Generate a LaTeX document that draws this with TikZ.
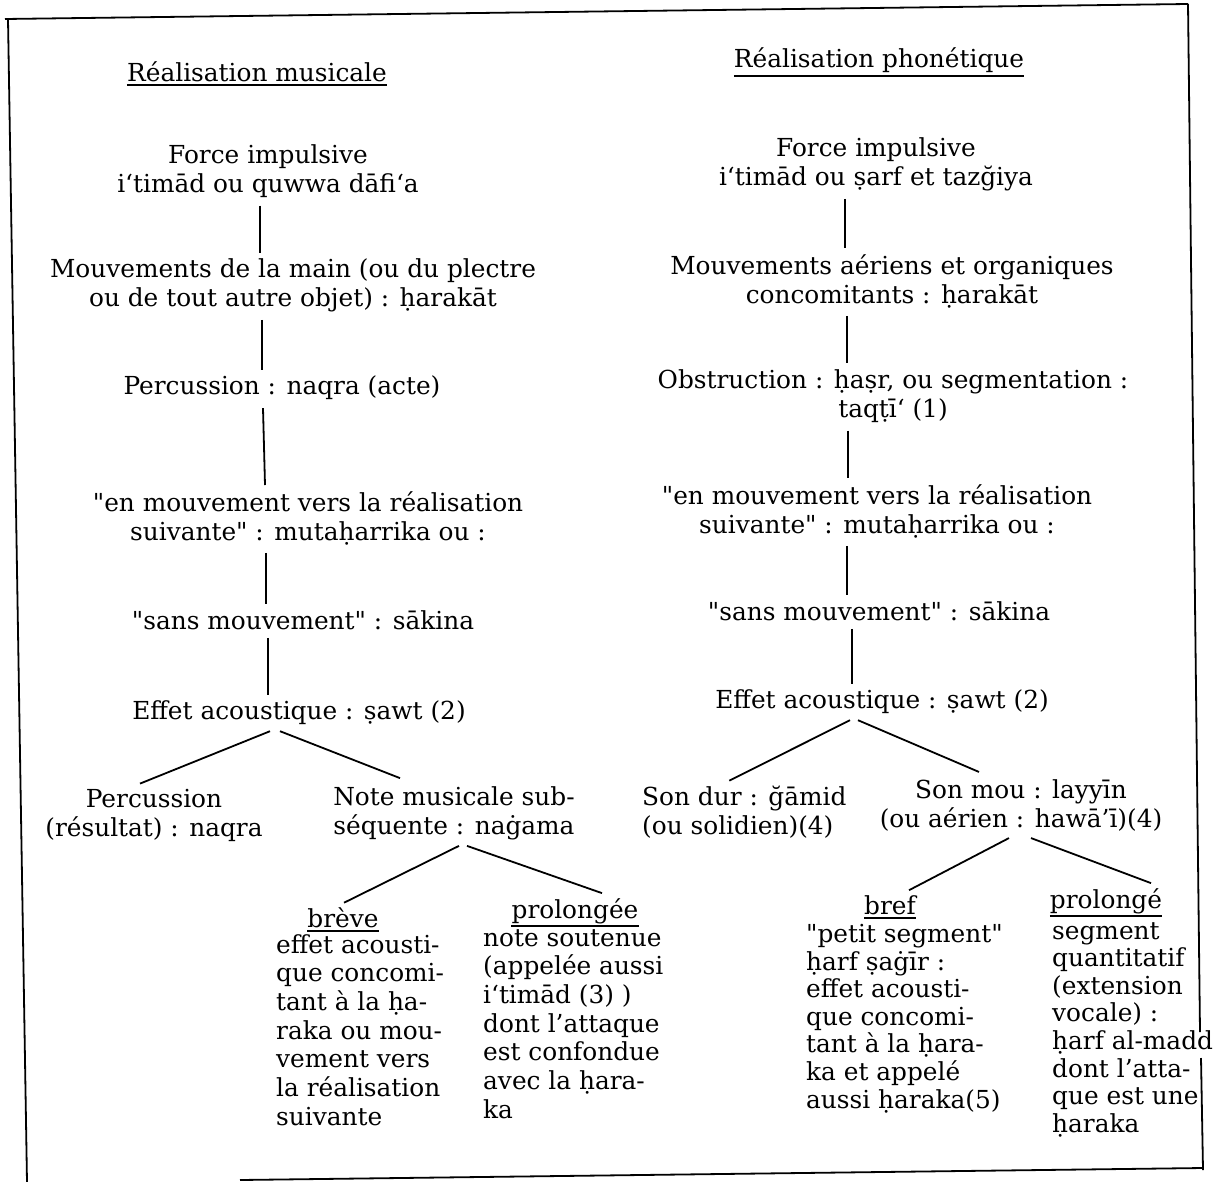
\documentclass[tikz,border=0pt]{standalone}
\usepackage{fontspec}
\setmainfont{DejaVu Serif}
\newcommand\qq{\textquotedbl}
\newcommand\fsz{\fontsize{24.8}{29}\selectfont}
\tikzset{
  txt/.style={inner sep=0pt, font=\fsz, align=center},
  lbody/.style={inner sep=0pt, anchor=north west, align=left, font=\fontsize{24.8}{28.7}\selectfont},
  rbody/.style={inner sep=0pt, anchor=north west, align=left, font=\fontsize{24.8}{27.6}\selectfont},
  conn/.style={line width=1.8pt},
  uline/.style={line width=1.8pt},
  frame/.style={line width=1.8pt}
}
\begin{document}
\begin{tikzpicture}[x=1pt,y=-1pt]
\useasboundingbox (0,0) rectangle (1225,1182);
% frame
\draw[frame] (5,19) -- (1188,4);
\draw[frame] (8,19) -- (27,1182);
\draw[frame] (1188,4) -- (1200,1032);
\draw[frame] (1201,1058) -- (1203,1170);
\draw[frame] (240,1180) -- (1203,1168);
% titles
\node[txt] (T1) at (257,72) {Réalisation musicale};
\node[txt] (T2) at (879,60) {Réalisation phonétique};
\draw[uline] ([yshift=-3pt]T1.south west) -- ([yshift=-3pt]T1.south east);
\draw[uline] ([yshift=-3pt]T2.south west) -- ([yshift=-3pt]T2.south east);
% left column
\node[txt] (L1) at (268,171) {Force impulsive\\ i‘timād ou quwwa dāfi‘a};
\node[txt] (L2) at (293,285) {Mouvements de la main (ou du plectre\\ ou de tout autre objet) : ḥarakāt};
\node[txt] (L3) at (282,388) {Percussion : naqra (acte)};
\node[txt] (L4) at (308,518) {\qq en mouvement vers la réalisation\\ suivante\qq{} : mutaḥarrika ou :};
\node[txt] (L5) at (303,620) {\qq sans mouvement\qq{} : sākina};
\node[txt] (L6) at (299,713) {Effet acoustique : ṣawt (2)};
\node[txt] (L7) at (154,815) {Percussion\\ (résultat) : naqra};
\node[txt] (L8) at (454,813) {Note musicale sub-\\ séquente : naġama};
\node[txt] (L9) at (343,918) {brève};
\draw[uline] ([yshift=-3pt]L9.south west) -- ([yshift=-3pt]L9.south east);
\node[lbody] (L10) at (276,934) {effet acousti-\\ que concomi-\\ tant à la ḥa-\\ raka ou mou-\\ vement vers\\ la réalisation\\ suivante};
\node[txt] (L11) at (575,911) {prolongée};
\draw[uline] ([yshift=-2pt]L11.south west) -- ([yshift=-2pt]L11.south east);
\node[lbody] (L12) at (483,929) {note soutenue\\ (appelée aussi\\ i‘timād (3) )\\ dont l'attaque\\ est confondue\\ avec la ḥara-\\ ka};
% right column
\node[txt] (R1) at (876,164) {Force impulsive\\ i‘timād ou ṣarf et tazğiya};
\node[txt] (R2) at (892,281) {Mouvements aériens et organiques\\ concomitants : ḥarakāt};
\node[txt] (R3) at (893,396) {Obstruction : ḥaṣr, ou segmentation :\\ taqṭī‘ (1)};
\node[txt] (R4) at (877,511) {\qq en mouvement vers la réalisation\\ suivante\qq{} : mutaḥarrika ou :};
\node[txt] (R5) at (879,611) {\qq sans mouvement\qq{} : sākina};
\node[txt] (R6) at (882,702) {Effet acoustique : ṣawt (2)};
\node[txt, anchor=west, align=left] (R7) at (642,812) {Son dur : ğāmid\\ (ou solidien)(4)};
\node[txt] (R8) at (1021,806) {Son mou : layyīn\\ (ou aérien : hawā’ī)(4)};
\node[txt] (R9) at (890,905) {bref};
\draw[uline] ([yshift=-3pt]R9.south west) -- ([yshift=-3pt]R9.south east);
\node[rbody] (R10) at (806,924) {\qq petit segment\qq\\ ḥarf ṣaġīr :\\ effet acousti-\\ que concomi-\\ tant à la ḥara-\\ ka et appelé\\ aussi ḥaraka(5)};
\node[txt] (R11) at (1106,901) {prolongé};
\draw[uline] ([yshift=-2pt]R11.south west) -- ([yshift=-2pt]R11.south east);
\node[rbody] (R12) at (1052,922) {segment\\ quantitatif\\ (extension\\ vocale) :\\ ḥarf al-madd\\ dont l'atta-\\ que est une\\ ḥaraka};
% connectors left
\draw[conn] ([xshift=-8pt,yshift=-8pt]L1.south) -- ([xshift=-33pt,yshift=5pt]L2.north);
\draw[conn] ([xshift=-31pt,yshift=-8pt]L2.south) -- ([xshift=-20pt,yshift=6pt]L3.north);
\draw[conn] ([xshift=-19pt,yshift=-8pt]L3.south) -- ([xshift=-43pt,yshift=6pt]L4.north);
\draw[conn] ([xshift=-42pt,yshift=-8pt]L4.south) -- ([xshift=-37pt,yshift=6pt]L5.north);
\draw[conn] ([xshift=-35pt,yshift=-8pt]L5.south) -- ([xshift=-31pt,yshift=6pt]L6.north);
\draw[conn] ([xshift=-29pt,yshift=-6pt]L6.south) -- ([xshift=-14pt,yshift=5pt]L7.north);
\draw[conn] ([xshift=-19pt,yshift=-6pt]L6.south) -- ([xshift=-54pt,yshift=8pt]L8.north);
\draw[conn] ([xshift=5pt,yshift=-6pt]L8.south) -- ([xshift=1pt,yshift=5pt]L9.north);
\draw[conn] ([xshift=13pt,yshift=-6pt]L8.south) -- ([xshift=27pt,yshift=5pt]L11.north);
% connectors right
\draw[conn] ([xshift=-31pt,yshift=-8pt]R1.south) -- ([xshift=-47pt,yshift=6pt]R2.north);
\draw[conn] ([xshift=-45pt,yshift=-8pt]R2.south) -- ([xshift=-46pt,yshift=6pt]R3.north);
\draw[conn] ([xshift=-45pt,yshift=-8pt]R3.south) -- ([xshift=-29pt,yshift=6pt]R4.north);
\draw[conn] ([xshift=-30pt,yshift=-8pt]R4.south) -- ([xshift=-32pt,yshift=6pt]R5.north);
\draw[conn] ([xshift=-27pt,yshift=-8pt]R5.south) -- ([xshift=-30pt,yshift=6pt]R6.north);
\draw[conn] ([xshift=-32pt,yshift=-6pt]R6.south) -- ([xshift=-15pt,yshift=5pt]R7.north);
\draw[conn] ([xshift=-24pt,yshift=-6pt]R6.south) -- ([xshift=-42pt,yshift=8pt]R8.north);
\draw[conn] ([xshift=-12pt,yshift=-6pt]R8.south) -- ([xshift=19pt,yshift=5pt]R9.north);
\draw[conn] ([xshift=10pt,yshift=-6pt]R8.south) -- ([xshift=45pt,yshift=5pt]R11.north);
\end{tikzpicture}
\end{document}
